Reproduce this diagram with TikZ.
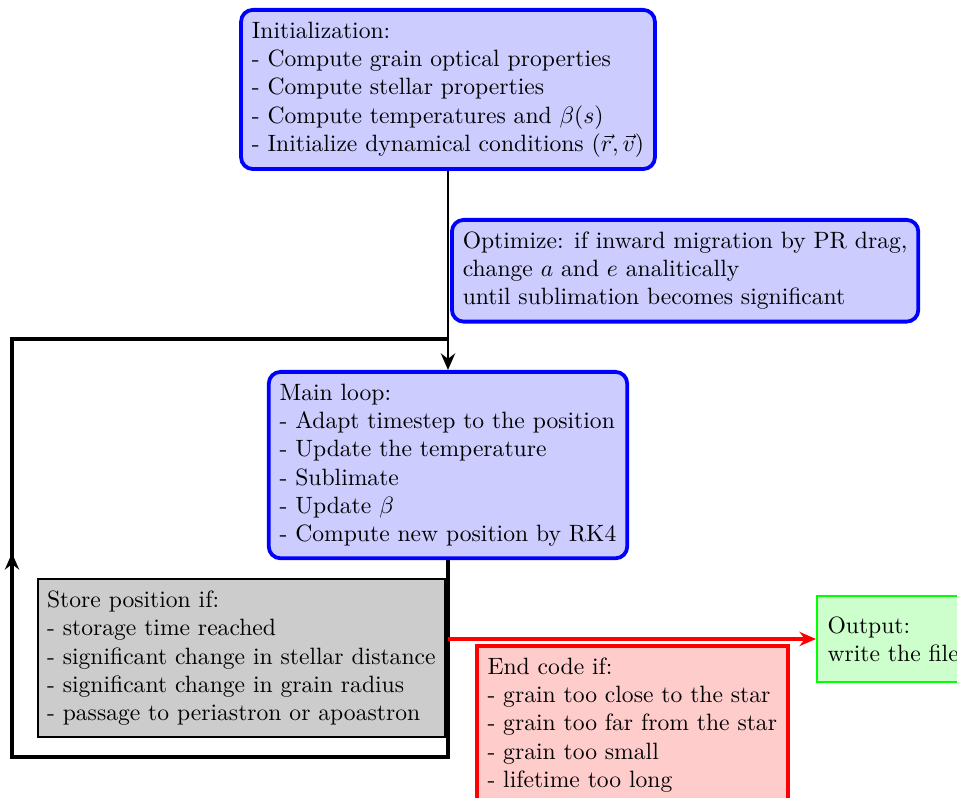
\documentclass[tikz,border=0pt]{standalone}
\usetikzlibrary{arrows.meta}
\begin{document}
\begin{tikzpicture}[x=0.4237pt,y=-0.4237pt,
  bluebox/.style={draw=blue, fill=blue!20, ultra thick, rounded corners=5pt, align=left, inner xsep=4.6pt, inner ysep=5pt},
  graybox/.style={draw=black, fill=black!20, thick, align=left, inner xsep=4pt, inner ysep=5pt},
  redbox/.style={draw=red, fill=red!20, ultra thick, align=left, inner xsep=4.5pt, inner ysep=5pt},
  greenbox/.style={draw=green, fill=green!20, thick, align=left, inner xsep=4.5pt, inner ysep=8.5pt},
  flow/.style={very thick, -{Stealth[length=7pt,width=6pt]}},
  loopline/.style={ultra thick}]
\useasboundingbox (0,0) rectangle (957,798);
\clip (0,0) rectangle (957,798);

\node[bluebox, anchor=north] (init) at (448,8) {Initialization:\\
- Compute grain optical properties\\
- Compute stellar properties\\
- Compute temperatures and $\beta(s)$\\
- Initialize dynamical conditions $(\vec{r},\vec{v})$};

\node[bluebox, anchor=north west] (opt) at (450,218) {Optimize: if inward migration by PR drag,\\
change $a$ and $e$ analitically\\
until sublimation becomes significant};

\node[bluebox, anchor=north] (main) at (448,370) {Main loop:\\
- Adapt timestep to the position\\
- Update the temperature\\
- Sublimate\\
- Update $\beta$\\
- Compute new position by RK4};

\node[graybox, anchor=north east] (store) at (446,578) {Store position if:\\
- storage time reached\\
- significant change in stellar distance\\
- significant change in grain radius\\
- passage to periastron or apoastron};

\node[redbox, anchor=north west] (endc) at (475,644) {End code if:\\
- grain too close to the star\\
- grain too far from the star\\
- grain too small\\
- lifetime too long};

\node[greenbox, anchor=west] (out) at (816,639) {Output:\\
write the files};

\coordinate (split) at (448,639);
\coordinate (bl) at (12,757);
\coordinate (mid) at (12,553);
\coordinate (tl) at (12,339);
\coordinate (tr) at (448,339);

\draw[flow] (init.south) -- (main.north);
\draw[loopline] (main.south) |- (bl) -- (mid);
\draw[loopline, -{Stealth[length=7pt,width=6pt]}] (bl) -- (mid);
\draw[loopline] (mid) -- (tl) -- (tr);
\draw[red, ultra thick, -{Stealth[length=7pt,width=6pt]}] (split) -- (out.west);
\end{tikzpicture}
\end{document}
